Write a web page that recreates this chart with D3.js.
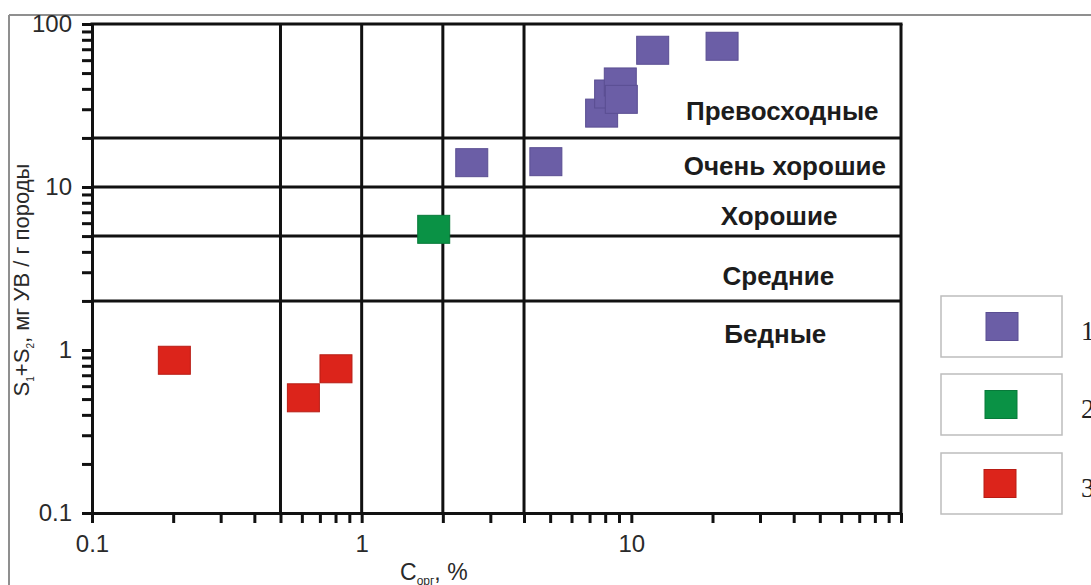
<!DOCTYPE html>
<html>
<head>
<meta charset="utf-8">
<script src="https://cdn.jsdelivr.net/npm/d3@7/dist/d3.min.js"></script>
<style>
  html, body { margin: 0; padding: 0; background: #fff; }
  svg { display: block; }
</style>
</head>
<body>
<svg id="chart" width="1091" height="585"></svg>
<script>
// ---------- data ----------
const series1_x = [12.0, 21.7, 7.76, 8.38, 9.10, 9.18, 4.82, 2.56];
const series1_y = [69.0, 73.0, 28.4, 37.2, 44.1, 34.5, 14.3, 14.1];
const series2_x = [1.85];
const series2_y = [5.5];
const series3_x = [0.202, 0.608, 0.803];
const series3_y = [0.865, 0.509, 0.767];

const seriesNames = ["1", "2", "3"];
const seriesColors = ["#6b5ea6", "#0a9245", "#dc241b"];
const seriesStroke = ["#5a4e92", "#087a3a", "#b81d15"];

const xMajorTicks = [0.1, 1, 10, 100];
const xTickLabels = ["0.1", "1", "10", ""];
const yMajorTicks = [0.1, 1, 10, 100];
const yTickLabels = ["0.1", "1", "10", "100"];

const verticalLimits = [0.5, 1, 2, 4];
const horizontalLimits = [2, 5, 10, 20];

const bandNames = ["Превосходные", "Очень хорошие", "Хорошие", "Средние", "Бедные"];
const bandLabelX = [36.3, 37.1, 35.3, 35.1, 34.2];
const bandLabelY = [25.8, 11.9, 5.85, 2.5, 1.1];

// ---------- layout ----------
const svg = d3.select("#chart");
const x = d3.scaleLog().domain([0.1, 100]).range([92, 901]);
const y = d3.scaleLog().domain([0.1, 100]).range([513, 24]);

function logTicks(lo, hi) {
  const out = [];
  for (let e = Math.log10(lo); e < Math.log10(hi); e++) {
    for (let m = 1; m < 10; m++) out.push(m * Math.pow(10, e));
  }
  out.push(hi);
  return out.map(v => +v.toPrecision(6));
}
const xAllTicks = logTicks(0.1, 100);
const yAllTicks = logTicks(0.1, 100);

function labelFor(v, majors, labels) {
  const i = majors.findIndex(m => Math.abs(m - v) / m < 1e-6);
  return i >= 0 ? labels[i] : "";
}

// page frame
svg.append("line").attr("x1", 9).attr("x2", 9).attr("y1", 15).attr("y2", 585)
  .attr("stroke", "#8f8f8f").attr("stroke-width", 2);
svg.append("line").attr("x1", 9).attr("x2", 1091).attr("y1", 15).attr("y2", 15)
  .attr("stroke", "#8f8f8f").attr("stroke-width", 2);

const lineColor = "#111";

// limit lines
svg.append("g").selectAll("line").data(verticalLimits).join("line")
  .attr("x1", d => x(d)).attr("x2", d => x(d))
  .attr("y1", y(0.1)).attr("y2", y(100))
  .attr("stroke", lineColor).attr("stroke-width", 3);
svg.append("g").selectAll("line").data(horizontalLimits).join("line")
  .attr("x1", x(0.1)).attr("x2", x(100))
  .attr("y1", d => y(d)).attr("y2", d => y(d))
  .attr("stroke", lineColor).attr("stroke-width", 3);
svg.append("line").attr("x1", x(0.1) - 1.5).attr("x2", x(100) + 1.5).attr("y1", y(100)).attr("y2", y(100))
  .attr("stroke", lineColor).attr("stroke-width", 3);
svg.append("line").attr("x1", x(100)).attr("x2", x(100)).attr("y1", y(100)).attr("y2", y(0.1))
  .attr("stroke", lineColor).attr("stroke-width", 3);

// axes
const xAxis = d3.axisBottom(x).tickValues(xAllTicks)
  .tickFormat(d => labelFor(d, xMajorTicks, xTickLabels))
  .tickSize(10).tickSizeOuter(0).tickPadding(12);
const yAxis = d3.axisLeft(y).tickValues(yAllTicks)
  .tickFormat(d => labelFor(d, yMajorTicks, yTickLabels))
  .tickSize(10).tickSizeOuter(0).tickPadding(10);

const gx = svg.append("g").attr("transform", `translate(0,${y(0.1)})`).call(xAxis);
const gy = svg.append("g").attr("transform", `translate(${x(0.1)},0)`).call(yAxis);
[gx, gy].forEach(g => {
  g.attr("font-size", null).attr("font-family", null);
  g.select(".domain").attr("stroke", lineColor).attr("stroke-width", 3);
  g.selectAll(".tick line").attr("stroke", lineColor).attr("stroke-width", 3);
  g.selectAll(".tick text").attr("fill", "#2a2a2a")
    .style("font-family", "'Liberation Sans', Arial, sans-serif").style("font-size", "24px");
});

// band labels
svg.append("g").selectAll("text").data(bandNames).join("text")
  .attr("x", (d, i) => x(bandLabelX[i]))
  .attr("y", (d, i) => y(bandLabelY[i]))
  .attr("text-anchor", "middle")
  .style("font-family", "'Liberation Sans', Arial, sans-serif")
  .style("font-size", "26px").style("font-weight", "bold")
  .attr("fill", "#1c1c1c")
  .text(d => d);

// markers
const mw = 32, mh = 28;
const allSeries = [
  series1_x.map((v, i) => ({ x: v, y: series1_y[i], s: 0 })),
  series2_x.map((v, i) => ({ x: v, y: series2_y[i], s: 1 })),
  series3_x.map((v, i) => ({ x: v, y: series3_y[i], s: 2 }))
];
allSeries.forEach(pts => {
  svg.append("g").selectAll("rect").data(pts).join("rect")
    .attr("x", d => x(d.x) - mw / 2).attr("y", d => y(d.y) - mh / 2)
    .attr("width", mw).attr("height", mh)
    .attr("fill", d => seriesColors[d.s])
    .attr("stroke", d => seriesStroke[d.s]).attr("stroke-width", 1);
});

// axis titles
const xt = svg.append("text").attr("x", 400).attr("y", 580)
  .style("font-family", "'Liberation Sans', Arial, sans-serif").style("font-size", "23px")
  .attr("fill", "#2a2a2a");
xt.append("tspan").text("C");
xt.append("tspan").attr("dy", 5).style("font-size", "12px").text("орг");
xt.append("tspan").attr("dy", -5).text(", %");

const yt = svg.append("text")
  .attr("transform", "translate(29,280) rotate(-90)")
  .attr("text-anchor", "middle")
  .style("font-family", "'Liberation Sans', Arial, sans-serif").style("font-size", "22px")
  .attr("fill", "#2a2a2a");
yt.append("tspan").text("S");
yt.append("tspan").attr("dy", 5).style("font-size", "10px").text("1");
yt.append("tspan").attr("dy", -5).text("+S");
yt.append("tspan").attr("dy", 5).style("font-size", "10px").text("2");
yt.append("tspan").attr("dy", -5).text(", мг УВ / г породы");

// legend
const legTop = [296, 374, 453];
const lg = svg.append("g");
seriesNames.forEach((name, i) => {
  lg.append("rect").attr("x", 941).attr("y", legTop[i]).attr("width", 121).attr("height", 61)
    .attr("fill", "#fff").attr("stroke", "#bdbdbd").attr("stroke-width", 1.5);
  lg.append("rect").attr("x", 986 - i).attr("y", legTop[i] + 16.5).attr("width", mw).attr("height", mh)
    .attr("fill", seriesColors[i]).attr("stroke", seriesStroke[i]).attr("stroke-width", 1);
  lg.append("text").attr("x", 1081).attr("y", legTop[i] + 44)
    .style("font-family", "'Liberation Serif', 'Times New Roman', serif").style("font-size", "27px")
    .attr("fill", "#222").text(name);
});
</script>
</body>
</html>
